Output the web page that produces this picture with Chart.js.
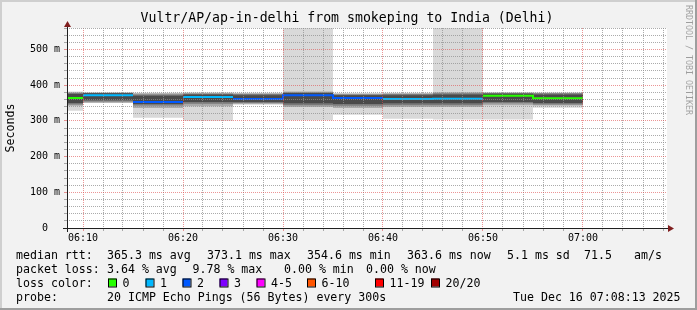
<!DOCTYPE html>
<html>
<head>
<meta charset="utf-8">
<script src="https://cdn.jsdelivr.net/npm/chart.js@4/dist/chart.umd.min.js"></script>
<style>
html, body { margin: 0; padding: 0; background: #f2f2f2; }
canvas { display: block; }
</style>
</head>
<body>
<canvas id="chart" width="697" height="310"></canvas>
<script>
// 5 minute steps, minutes after 06:00
const segStart = [5, 10, 15, 20, 25, 30, 35, 40, 45, 50, 55];
const STEP = 5;
// median rtt per step, ms
const median = [364, 372, 353, 367, 361, 372, 364, 361, 362, 370, 363];
// index into lossLabels
const lossClass = [0, 1, 2, 1, 2, 2, 2, 1, 1, 0, 0];
// smoke, outer -> inner pairs (ms)
const smokeMax = [382, 381, 379, 380, 379, 580, 378, 379, 580, 381, 380];
const smokeMin = [328, 350, 309, 300, 345, 302, 317, 306, 304, 304, 337];
const smokeHi2 = [380, 379, 377, 378, 377, 382, 376, 377, 380, 379, 378];
const smokeLo2 = [342, 351, 336, 341, 347, 339, 336, 339, 339, 344, 343];
const smokeHi3 = [378, 378, 374, 376, 375, 380, 374, 375, 377, 378, 377];
const smokeLo3 = [346, 354, 343, 348, 350, 344, 342, 344, 344, 349, 346];
const smokeHi4 = [375, 377, 370, 374, 372, 378, 372, 372, 374, 376, 374];
const smokeLo4 = [350, 358, 347, 353, 353, 349, 347, 349, 349, 353, 350];

const lossLabels = ['0', '1', '2', '3', '4-5', '6-10', '11-19', '20/20'];
const lossColors = ['#26ff00', '#00b8ff', '#0059ff', '#7e00ff', '#ff00ff', '#ff5500', '#ff0000', '#a10000'];

const rttStats = [365.3, 373.1, 354.6, 363.6]; // avg max min now
const rttSd = 5.1;
const rttAmps = 71.5;
const lossStats = [3.64, 9.78, 0.00, 0.00]; // avg max min now

const titleText = 'Vultr/AP/ap-in-delhi from smokeping to India (Delhi)';
const probeText = '20 ICMP Echo Pings (56 Bytes) every 300s';
const stampText = 'Tue Dec 16 07:08:13 2025';

// layout
const X_MIN = 8.4, X_MAX = 68.4;
const Y_MAX = 560;
const PLOT = { left: 67, top: 28, right: 667, bottom: 228 };
const BAR_PX = (PLOT.right - PLOT.left) * STEP / (X_MAX - X_MIN);
const MONO = '"DejaVu Sans Mono", monospace';
const GRID = 'rgba(143,143,143,0.75)';
const MGRID = 'rgba(222,79,79,0.6)';
const AXIS = 'rgb(31,31,31)';
const ARROW = 'rgb(128,31,31)';

const mid = segStart.map(s => s + STEP / 2);
const band = (lo, hi) => mid.map((x, i) => ({ x, y: [lo[i], hi[i]] }));

const smokeSets = [
	[smokeMin, smokeMax, '#d9d9d9'],
	[smokeLo2, smokeHi2, '#aaaaaa'],
	[smokeLo3, smokeHi3, '#7a7a7a'],
	[smokeLo4, smokeHi4, '#4a4a4a'],
].map(([lo, hi, color], k) => ({
	type: 'bar',
	data: band(lo, hi),
	backgroundColor: color,
	borderWidth: 0,
	inflateAmount: 0,
	barThickness: BAR_PX,
	grouped: false,
	clip: 0,
	order: 10 - k,
}));

const medianSets = lossLabels.map((label, c) => ({
	type: 'line',
	label,
	data: segStart.flatMap((s, i) => lossClass[i] === c
		? [{ x: s, y: median[i] }, { x: s + STEP, y: median[i] }]
		: [{ x: s, y: null }]),
	borderColor: lossColors[c],
	borderWidth: 2,
	pointRadius: 0,
	spanGaps: false,
	clip: 0,
	order: 0,
})).filter(d => d.data.some(p => p.y !== null));

const hhmm = v => {
	const h = 6 + Math.floor(v / 60);
	const m = Math.round(v % 60);
	return String(h).padStart(2, '0') + ':' + String(m).padStart(2, '0');
};

const rrdFrame = {
	id: 'rrdFrame',
	beforeDraw(chart) {
		const { ctx, width, height, chartArea: a } = chart;
		ctx.save();
		ctx.fillStyle = '#f2f2f2';
		ctx.fillRect(0, 0, width, height);
		ctx.fillStyle = '#cfcfcf';
		ctx.fillRect(0, 0, width, 2);
		ctx.fillRect(0, 0, 2, height);
		ctx.fillStyle = '#9e9e9e';
		ctx.fillRect(0, height - 2, width, 2);
		ctx.fillRect(width - 2, 0, 2, height);
		ctx.fillStyle = '#ffffff';
		ctx.fillRect(a.left, a.top, a.right - a.left, a.bottom - a.top);
		ctx.restore();
	},
	afterDraw(chart) {
		const { ctx, chartArea: a } = chart;
		ctx.save();
		// axes
		ctx.fillStyle = AXIS;
		ctx.fillRect(a.left - 4, a.bottom, a.right - a.left + 5, 1);
		ctx.fillRect(a.left, a.top - 2, 1, a.bottom - a.top + 6);
		ctx.fillStyle = ARROW;
		ctx.beginPath();
		ctx.moveTo(a.right + 1, a.bottom - 3);
		ctx.lineTo(a.right + 7, a.bottom + 0.5);
		ctx.lineTo(a.right + 1, a.bottom + 4);
		ctx.closePath();
		ctx.fill();
		ctx.beginPath();
		ctx.moveTo(a.left - 3, a.top - 1);
		ctx.lineTo(a.left + 0.5, a.top - 7);
		ctx.lineTo(a.left + 4, a.top - 1);
		ctx.closePath();
		ctx.fill();

		// title
		ctx.fillStyle = '#000';
		ctx.font = '13.2px ' + MONO;
		ctx.textAlign = 'center';
		ctx.textBaseline = 'alphabetic';
		ctx.fillText(titleText, 347, 22);

		// vertical label
		ctx.font = '11.6px ' + MONO;
		ctx.save();
		ctx.translate(11, (a.top + a.bottom) / 2);
		ctx.rotate(-Math.PI / 2);
		ctx.textBaseline = 'middle';
		ctx.fillText('Seconds', 0, 0);
		ctx.restore();

		// watermark
		ctx.save();
		ctx.translate(688, 5);
		ctx.rotate(Math.PI / 2);
		ctx.font = '8.3px ' + MONO;
		ctx.fillStyle = 'rgba(0,0,0,0.35)';
		ctx.textAlign = 'left';
		ctx.textBaseline = 'middle';
		ctx.fillText('RRDTOOL / TOBI OETIKER', 0, 0);
		ctx.restore();

		// legend
		ctx.textAlign = 'left';
		ctx.textBaseline = 'alphabetic';
		ctx.fillStyle = '#000';
		const rows = [
			[258.5, [
				['median rtt:', 16],
				[rttStats[0].toFixed(1) + ' ms avg', 107],
				[rttStats[1].toFixed(1) + ' ms max', 207],
				[rttStats[2].toFixed(1) + ' ms min', 307],
				[rttStats[3].toFixed(1) + ' ms now', 407],
				[rttSd.toFixed(1) + ' ms sd', 507],
				[rttAmps.toFixed(1), 584],
				['am/s', 634],
			]],
			[272.5, [
				['packet loss:', 16],
				[lossStats[0].toFixed(2) + ' % avg', 107],
				[lossStats[1].toFixed(2) + ' % max', 192.5],
				[lossStats[2].toFixed(2) + ' % min', 284],
				[lossStats[3].toFixed(2) + ' % now', 366],
			]],
			[286.5, [['loss color:', 16]]],
			[300.5, [
				['probe:', 16],
				[probeText, 107],
				[stampText, 513],
			]],
		];
		rows.forEach(([y, items]) => items.forEach(([t, x]) => ctx.fillText(t, x, y)));

		const boxX = [108, 145.5, 182.5, 219.5, 256.5, 307, 375, 431];
		lossLabels.forEach((label, c) => {
			const x = boxX[c];
			ctx.fillStyle = lossColors[c];
			ctx.fillRect(x, 278.5, 8, 8);
			ctx.strokeStyle = '#000';
			ctx.lineWidth = 1;
			ctx.strokeRect(x + 0.5, 278.5 + 0.5, 8, 8);
			ctx.fillStyle = '#000';
			ctx.fillText(label, x + 14.5, 286.5);
		});
		ctx.restore();
	},
};

Chart.defaults.font.family = MONO;
Chart.defaults.color = '#000';

new Chart(document.getElementById('chart'), {
	type: 'bar',
	data: { datasets: [...medianSets, ...smokeSets] },
	options: {
		responsive: false,
		animation: false,
		events: [],
		layout: { padding: { top: PLOT.top, left: 0, right: 697 - PLOT.right, bottom: 310 - PLOT.bottom - 14 } },
		plugins: { legend: { display: false }, tooltip: { enabled: false }, title: { display: false } },
		scales: {
			x: {
				type: 'linear',
				min: X_MIN,
				max: X_MAX,
				offset: false,
				grid: {
					offset: false,
					z: 1,
					color: c => c.tick && c.tick.value % 10 === 0 ? MGRID : GRID,
					tickColor: c => c.tick && c.tick.value % 10 === 0 ? MGRID : GRID,
					tickLength: 3,
				},
				border: { display: false, dash: [1, 1] },
				ticks: {
					autoSkip: false,
					maxRotation: 0,
					padding: 1,
					font: { size: 10 },
					color: '#000',
					callback: v => v % 10 === 0 ? hhmm(v) : '',
				},
				afterBuildTicks: s => {
					const ticks = [];
					for (let v = Math.ceil(X_MIN / 2) * 2; v <= X_MAX; v += 2) ticks.push({ value: v });
					s.ticks = ticks;
				},
				afterFit: s => { s.height = 14; },
			},
			y: {
				min: 0,
				max: Y_MAX,
				grid: {
					z: 1,
					color: c => c.tick && c.tick.value % 100 === 0 ? MGRID : GRID,
					tickColor: c => c.tick && c.tick.value % 100 === 0 ? MGRID : GRID,
					tickLength: 3,
				},
				border: { display: false, dash: [1, 1] },
				ticks: {
					autoSkip: false,
					padding: 4,
					font: { size: 10 },
					color: '#000',
					callback: v => v % 100 !== 0 ? '' : (v === 0 ? '0  ' : v + ' m'),
				},
				afterBuildTicks: s => {
					const ticks = [];
					for (let v = 0; v <= Y_MAX; v += 20) ticks.push({ value: v });
					s.ticks = ticks;
				},
				afterFit: s => { s.width = PLOT.left; },
			},
		},
	},
	plugins: [rrdFrame],
});
</script>
</body>
</html>
